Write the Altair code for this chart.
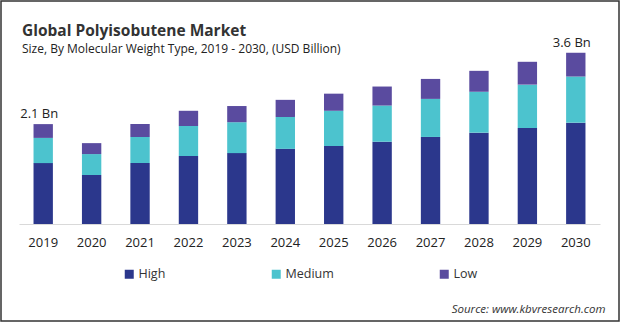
import altair as alt
import pandas as pd

years = ["2019", "2020", "2021", "2022", "2023", "2024",
         "2025", "2026", "2027", "2028", "2029", "2030"]
high = [1.28, 1.03, 1.28, 1.43, 1.49, 1.58, 1.64, 1.73, 1.83, 1.92, 2.02, 2.13]
medium = [0.53, 0.44, 0.55, 0.63, 0.65, 0.67, 0.74, 0.76, 0.80, 0.86, 0.91, 0.97]
low = [0.29, 0.23, 0.27, 0.32, 0.34, 0.36, 0.36, 0.40, 0.42, 0.44, 0.48, 0.50]
segments = ["High", "Medium", "Low"]
colors = ["#2B378C", "#4CC3CE", "#5A4B9F"]
total_labels = ["2.1 Bn", "", "", "", "", "", "", "", "", "", "", "3.6 Bn"]

rows = []
for i, y in enumerate(years):
    for k, (seg, vals) in enumerate(zip(segments, [high, medium, low])):
        rows.append({"Year": y, "Type": seg, "Value": vals[i], "order": k})
df = pd.DataFrame(rows)

tot = pd.DataFrame({
    "Year": years,
    "Total": [h + m + l for h, m, l in zip(high, medium, low)],
    "Label": total_labels,
})
tot = tot[tot["Label"] != ""]

FONT = "Open Sans"
yscale = alt.Scale(domain=[0, 3.7], nice=False)

x_enc = alt.X(
    "Year:N",
    sort=years,
    scale=alt.Scale(paddingInner=0.6, paddingOuter=0.3),
    axis=alt.Axis(
        title="Source: www.kbvresearch.com",
        titleX=586, titleY=88, titleAlign="right", titleBaseline="alphabetic",
        titleFontStyle="italic", titleFontWeight="normal", titleFontSize=11.5,
        titleColor="#333333", titleFont=FONT,
        labelAngle=0, labelFontSize=13, labelColor="#222222", labelFont=FONT,
        labelPadding=12, ticks=False, domainColor="#d9d9d9", grid=False,
    ),
)

bars = alt.Chart(df).mark_bar().encode(
    x=x_enc,
    y=alt.Y("Value:Q", stack="zero", scale=yscale, axis=None),
    color=alt.Color(
        "Type:N",
        scale=alt.Scale(domain=segments, range=colors),
        legend=alt.Legend(
            title=None, orient="none", direction="horizontal",
            legendX=104, legendY=220, symbolType="square", symbolSize=81,
            symbolStrokeWidth=0, labelFontSize=12.5, labelColor="#333333",
            labelFont=FONT, labelOffset=3, columnPadding=104, gridAlign="none",
        ),
    ),
    order=alt.Order("order:Q"),
)

labels = alt.Chart(tot).mark_text(
    fontSize=13, font=FONT, color="#222222", baseline="alphabetic", dy=-6, dx=-4
).encode(
    x=alt.X("Year:N", sort=years),
    y=alt.Y("Total:Q", scale=yscale),
    text="Label:N",
)

border = alt.Chart(alt.Data(values=[{}])).mark_rect(
    fill=None, stroke="#333333", strokeWidth=1.5
).encode(
    x=alt.value(-18), x2=alt.value(600), y=alt.value(-47), y2=alt.value(273)
)

chart = alt.layer(bars, labels, border).properties(
    width=581, height=176,
    background="white",
    title=alt.TitleParams(
        text="Global Polyisobutene Market",
        subtitle="Size, By Molecular Weight Type, 2019 - 2030, (USD Billion)",
        anchor="start", frame="group", dx=3, dy=49, offset=-6,
        fontSize=15.5, fontWeight="bold", color="#333333", font=FONT,
        subtitleFontSize=12, subtitleColor="#222222", subtitleFont=FONT,
        subtitlePadding=5,
    ),
    autosize=alt.AutoSizeParams(type="none"),
    padding={"left": 19, "top": 48, "right": 20, "bottom": 98},
).configure_view(stroke="transparent", strokeWidth=0)

chart.save("out.html", embed_options={"renderer": "svg", "actions": False})
